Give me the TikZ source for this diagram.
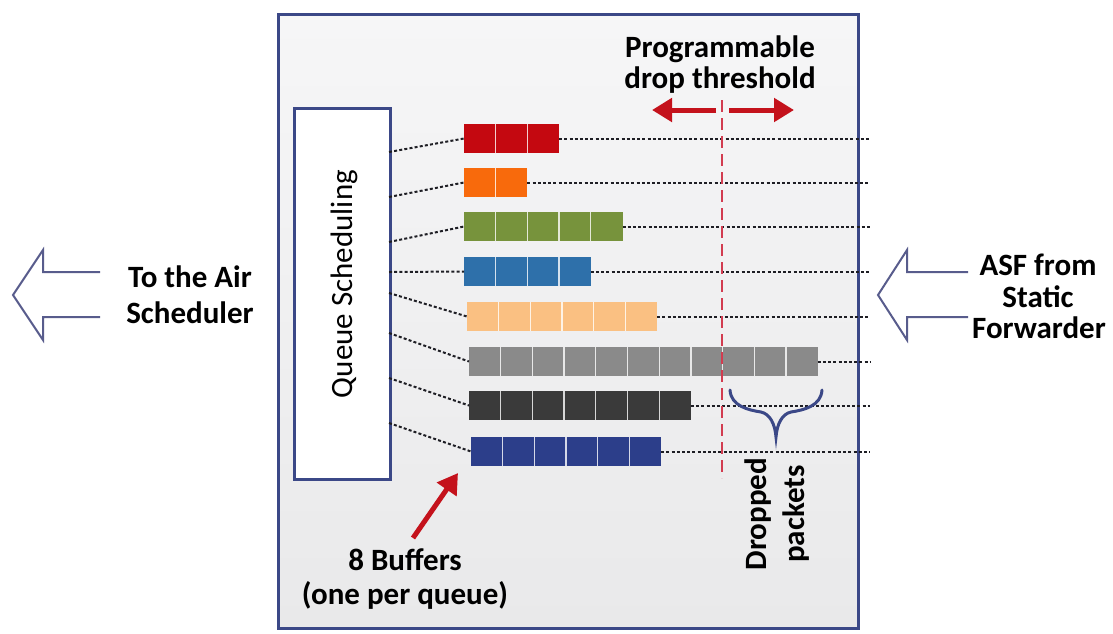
\documentclass[tikz,border=0pt]{standalone}
\usepackage{fontspec}
\setmainfont{Carlito}
\usetikzlibrary{arrows.meta,calc}

\definecolor{frame}{RGB}{59,72,135}
\definecolor{hollow}{RGB}{88,92,140}
\definecolor{redarrow}{RGB}{196,18,28}
\definecolor{thresh}{RGB}{210,60,80}
\definecolor{q1}{RGB}{196,8,16}
\definecolor{q2}{RGB}{248,106,12}
\definecolor{q3}{RGB}{119,147,60}
\definecolor{q4}{RGB}{46,112,170}
\definecolor{q5}{RGB}{250,192,130}
\definecolor{q6}{RGB}{138,138,138}
\definecolor{q7}{RGB}{58,58,58}
\definecolor{q8}{RGB}{44,62,138}
\definecolor{panelTop}{RGB}{246,246,247}
\definecolor{panelBot}{RGB}{233,233,234}
\definecolor{dotcol}{RGB}{30,30,36}

\tikzset{
  buf/.style n args={2}{draw=none, fill=#2, minimum width=#1*31.7pt,
    minimum height=29pt, inner sep=0pt, outer sep=0pt, anchor=north west,
    path picture={\foreach \k in {1,...,#1}{\ifnum\k<#1
      \draw[white!80!#2, line width=1.3pt]
        ($(path picture bounding box.south west)+(\k*31.7,0)$) -- ++(0,-29);\fi}}},
  dots/.style={dotcol, line width=2pt, dash pattern=on 3pt off 2.2pt},
  lbl/.style={font=\fontsize{31}{36}\selectfont\bfseries, inner sep=0pt, anchor=base},
  hollowarrow/.style={draw=hollow, line width=2pt, line join=miter},
  redthick/.style={redarrow, line width=5pt, -{Triangle[length=20pt,width=23pt]}},
}

\begin{document}
\begin{tikzpicture}[x=1pt,y=-1pt]
\useasboundingbox (0,0) rectangle (1113,633);
\fill[white] (0,0) rectangle (1113,633);

% outer unit frame
\node[draw=frame, line width=3pt, top color=panelTop, bottom color=panelBot,
      minimum width=580pt, minimum height=614pt, inner sep=0pt, anchor=north west]
  (unit) at (277,13) {};

% scheduler block
\node[draw=frame, line width=3pt, fill=white, minimum width=96pt,
      minimum height=371pt, inner sep=0pt, anchor=north west] (qs) at (293,107) {};
\node[font=\fontsize{31}{36}\selectfont, inner sep=0pt, anchor=base, rotate=90]
  (qstext) at (352,284) {Queue Scheduling};

% the eight buffers
\node[buf={3}{q1}]  (r1) at (464,124) {};
\node[buf={2}{q2}]  (r2) at (464,168) {};
\node[buf={5}{q3}]  (r3) at (464,212) {};
\node[buf={4}{q4}]  (r4) at (464,257) {};
\node[buf={6}{q5}]  (r5) at (467,302) {};
\node[buf={11}{q6}] (r6) at (469,347) {};
\node[buf={7}{q7}]  (r7) at (469,391) {};
\node[buf={6}{q8}]  (r8) at (471,437) {};

% scheduler taps and incoming lines
\coordinate (edge) at (870,0);
\foreach \i/\y in {1/152,2/197,3/242,4/272,5/293,6/333,7/378,8/423}{
  \coordinate (s\i) at (389,\y);
  \coordinate (e\i) at (r\i.east -| edge);
  \draw[dots] (s\i) -- (r\i.west);
  \draw[dots] (r\i.east) -- (e\i);
}

% programmable drop threshold
\coordinate (thtop) at (722,100);
\coordinate (thbot) at (722,478);
\draw[thresh, line width=2pt, dash pattern=on 12pt off 6pt] (thtop) -- (thbot);
\coordinate (la0) at (716,110);
\coordinate (la1) at (652,110);
\coordinate (ra0) at (729,110);
\coordinate (ra1) at (794,110);
\draw[redthick] (la0) -- (la1);
\draw[redthick] (ra0) -- (ra1);
\node[lbl] (prog) at (720,57) {Programmable};
\node[lbl] (drop) at (720,88) {drop threshold};

% brace over dropped packets
\draw[frame, line width=3pt, line cap=round]
  (730,390) .. controls (731,406) and (748,410) .. (761,412)
  .. controls (770,414) and (775,424) .. (776,437)
  .. controls (777,424) and (782,414) .. (791,412)
  .. controls (804,410) and (821,406) .. (822,390);
\node[lbl, rotate=90] (dropped) at (766,514) {Dropped};
\node[lbl, rotate=90] (packets) at (804,514) {packets};

% buffers callout
\node[lbl] (nbuf) at (405,570) {8 Buffers};
\node[lbl] (perq) at (405,604) {(one per queue)};
\coordinate (bt) at (413,538);
\coordinate (bh) at (458,473);
\draw[redthick] (bt) -- (bh);

% outgoing hollow arrow
\draw[hollowarrow] (100,272) -- (43,272) -- (43,250) -- (13,295) -- (43,340)
  -- (43,317) -- (100,317);
\node[lbl] (air1) at (190,287) {To the Air};
\node[lbl] (air2) at (190,323) {Scheduler};

% incoming hollow arrow
\draw[hollowarrow] (968,272) -- (907,272) -- (907,250) -- (878,295) -- (907,340)
  -- (907,317) -- (968,317);
\node[lbl] (asf1) at (1038,275) {ASF from};
\node[lbl] (asf2) at (1038,307) {Static};
\node[lbl] (asf3) at (1039,338) {Forwarder};
\end{tikzpicture}
\end{document}
